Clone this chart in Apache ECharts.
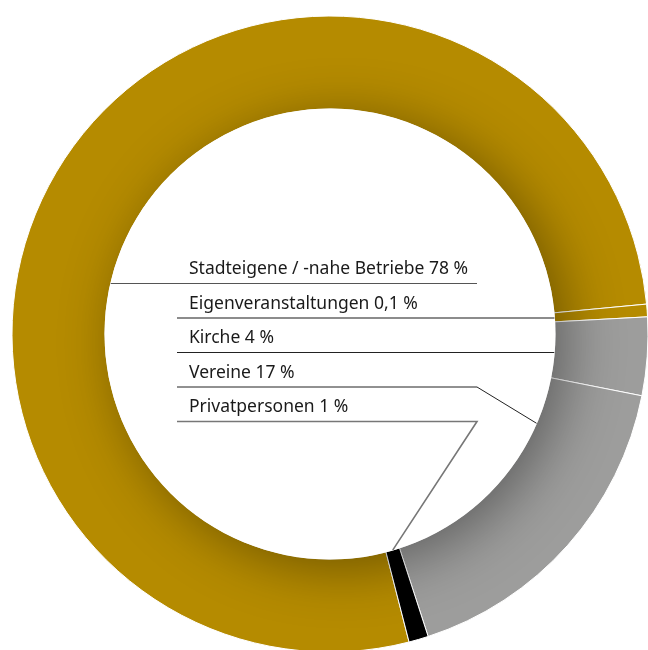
<!DOCTYPE html>
<html>
<head>
<meta charset="utf-8">
<script src="https://cdn.jsdelivr.net/npm/echarts@6/dist/echarts.min.js"></script>
<style>
  html, body { margin: 0; padding: 0; background: #fff; }
  #diagramm { width: 648px; height: 650px; }
</style>
</head>
<body>
<div id="diagramm"></div>
<script>
// Daten: Reihenfolge im Uhrzeigersinn, beginnend unten
const kategorien = ["Stadteigene / -nahe Betriebe", "Eigenveranstaltungen", "Kirche", "Vereine", "Privatpersonen"];
const anteile = [78, 0.1, 4, 17, 1];
const farben = ["#b58b00", "#b58b00", "#9d9d9c", "#9d9d9c", "#000000"];

const mitte = [330, 334];
const radien = [225, 318];

const chart = echarts.init(document.getElementById("diagramm"));

chart.setOption({
  animation: false,
  series: [
    {
      type: "pie",
      center: mitte,
      radius: radien,
      startAngle: -75.6,
      clockwise: true,
      minAngle: 2.3,
      silent: true,
      avoidLabelOverlap: false,
      label: { show: false },
      labelLine: { show: false },
      itemStyle: { borderColor: "#fff", borderWidth: 1 },
      data: kategorien.map((name, i) => ({
        name: name,
        value: anteile[i],
        itemStyle: { color: farben[i] },
      })),
    },
  ],
});

// Beschriftungen mit Führungslinien, an der tatsächlichen Lage der Segmente ausgerichtet
const daten = chart.getModel().getSeriesByIndex(0).getData();
const zeilenStart = -50.5; // erste Linie relativ zur Mitte
const zeilenAbstand = 34.5;
const textX = 189;
const linieLinks = 177;
const knickX = mitte[0] + 147;
const ankerAnteil = [0, 0.5, 0.5, 0.2, 0.5];
const linienFarben = ["#555", "#666", "#222", "#222", "#777"];
const linienBreiten = [1.2, 1.5, 1, 1, 1.6];

function prozentText(v) {
  return String(v).replace(".", ",") + " %";
}

const elemente = [];

// innerer weißer Kreis mit Schatten nach rechts unten
const l0 = daten.getItemLayout(0);
elemente.push({
  type: "circle",
  z: 5,
  silent: true,
  shape: { cx: l0.cx, cy: l0.cy, r: l0.r0 + 0.5 },
  style: {
    fill: "#fff",
    shadowBlur: 55,
    shadowOffsetX: 12,
    shadowOffsetY: 9,
    shadowColor: "rgba(0,0,0,0.38)",
  },
});

kategorien.forEach((name, i) => {
  const l = daten.getItemLayout(i);
  const y = l.cy + zeilenStart + i * zeilenAbstand;
  const dy = y - l.cy;
  const innenX = Math.sqrt(l.r0 * l.r0 - dy * dy);
  let punkte;
  if (i === 0) {
    punkte = [[l.cx - innenX, y], [knickX, y]];
  } else if (i === 1 || i === 2) {
    punkte = [[linieLinks, y], [l.cx + innenX, y]];
  } else {
    const a = l.startAngle + ankerAnteil[i] * (l.endAngle - l.startAngle);
    punkte = [[linieLinks, y], [knickX, y], [l.cx + l.r0 * Math.cos(a), l.cy + l.r0 * Math.sin(a)]];
  }
  elemente.push({
    type: "polyline",
    z: 6,
    silent: true,
    shape: { points: punkte },
    style: { stroke: linienFarben[i], lineWidth: linienBreiten[i], fill: null },
  });
  elemente.push({
    type: "text",
    z: 6,
    silent: true,
    x: textX,
    y: y - 14,
    style: {
      text: name + " " + prozentText(anteile[i]),
      fill: "#1a1a1a",
      font: '17.5px "Noto Sans"',
      textAlign: "left",
      textVerticalAlign: "middle",
    },
  });
});

chart.setOption({ graphic: { elements: elemente } });
</script>
</body>
</html>
